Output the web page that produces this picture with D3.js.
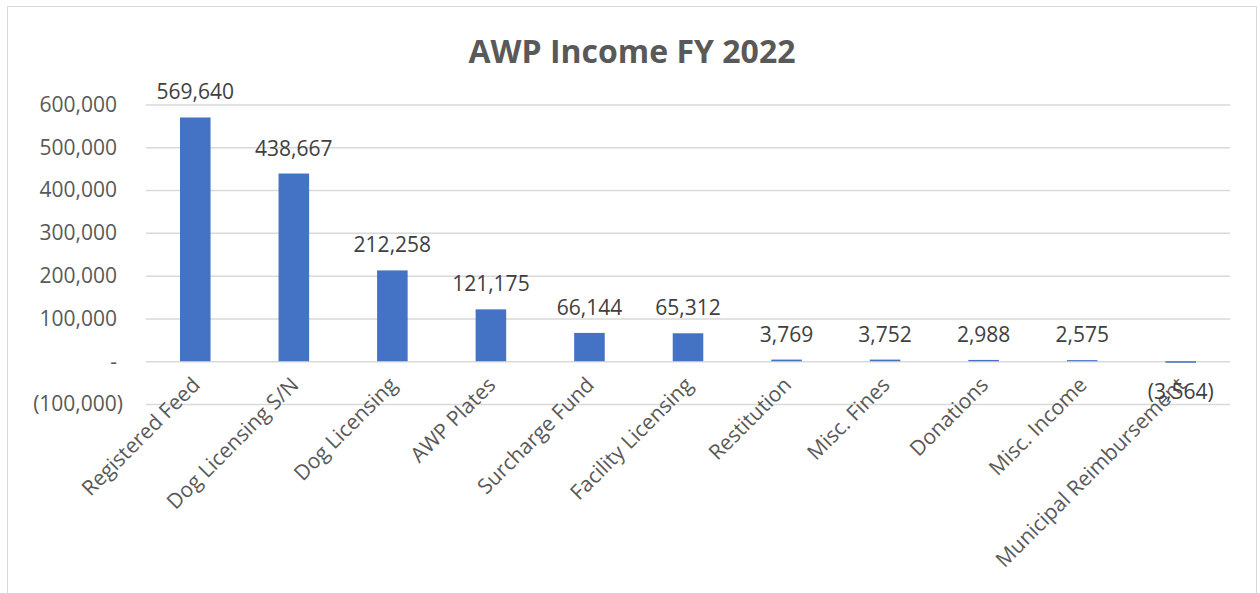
<!DOCTYPE html>
<html>
<head>
<meta charset="utf-8">
<script src="https://cdn.jsdelivr.net/npm/d3@7"></script>
<style>
  body { margin: 0; background: #fff; }
  text { font-family: "Open Sans", sans-serif; }
</style>
</head>
<body>
<svg id="chart" width="1260" height="593"></svg>
<script>
var categories = ["Registered Feed", "Dog Licensing S/N", "Dog Licensing", "AWP Plates",
  "Surcharge Fund", "Facility Licensing", "Restitution", "Misc. Fines", "Donations",
  "Misc. Income", "Municipal Reimbursement"];
var values = [569640, 438667, 212258, 121175, 66144, 65312, 3769, 3752, 2988, 2575, -3564];
var yTicks = [-100000, 0, 100000, 200000, 300000, 400000, 500000, 600000];
var yDomain = [-100000, 600000];

var svg = d3.select("#chart");

// chart frame
svg.append("rect")
    .attr("x", 7.5).attr("y", 6.5)
    .attr("width", 1249).attr("height", 620)
    .attr("fill", "#fff")
    .attr("stroke", "#d9d9d9");

svg.append("text")
    .attr("x", 632).attr("y", 63)
    .attr("text-anchor", "middle")
    .attr("font-size", 32)
    .attr("font-weight", "bold")
    .attr("fill", "#595959")
    .text("AWP Income FY 2022");

var left = 146, right = 1230;

var x = d3.scaleBand()
    .domain(categories)
    .range([left, right])
    .paddingInner(0.69)
    .paddingOuter(0.345);

var y = d3.scaleLinear()
    .domain(yDomain)
    .range([404, 104.5]);

function fmt(d) {
  if (d === 0) return "-";
  if (d < 0) return "(" + d3.format(",")(-d) + ")";
  return d3.format(",")(d);
}

// gridlines
svg.append("g")
    .attr("transform", "translate(" + left + ",0)")
    .call(d3.axisLeft(y).tickValues(yTicks).tickSize(-(right - left)).tickFormat(""))
    .call(function(g) {
      g.select(".domain").remove();
      g.selectAll("line").attr("stroke", "#d9d9d9").attr("stroke-width", 1.5);
    });

// y labels (accounting style, negatives hang out past the column)
svg.append("g")
    .selectAll("text")
    .data(yTicks)
    .enter()
    .append("text")
    .attr("x", function(d) { return d < 0 ? 123 : 117; })
    .attr("y", function(d) { return y(d); })
    .attr("dy", "0.35em")
    .attr("text-anchor", "end")
    .attr("font-size", 21)
    .attr("fill", "#595959")
    .text(fmt);

// bars
svg.append("g")
    .selectAll("rect")
    .data(values)
    .enter()
    .append("rect")
    .attr("x", function(d, i) { return x(categories[i]); })
    .attr("y", function(d) { return y(Math.max(0, d)); })
    .attr("width", x.bandwidth())
    .attr("height", function(d) { return Math.abs(y(d) - y(0)); })
    .attr("fill", "#4472c4");

// category axis
svg.append("g")
    .attr("transform", "translate(0," + y(0) + ")")
    .call(d3.axisBottom(x).tickSize(0))
    .call(function(g) {
      g.select(".domain").remove();
      g.selectAll("text")
          .attr("font-family", "Open Sans, sans-serif")
          .attr("font-size", 21)
          .attr("fill", "#595959")
          .attr("text-anchor", "end")
          .attr("dy", null)
          .attr("y", 0)
          .attr("transform", "translate(6,25) rotate(-45)");
    });

// data labels
svg.append("g")
    .selectAll("text")
    .data(values)
    .enter()
    .append("text")
    .attr("x", function(d, i) { return x(categories[i]) + x.bandwidth() / 2; })
    .attr("y", function(d) { return d >= 0 ? y(d) - 18 : y(d) + 36; })
    .attr("text-anchor", "middle")
    .attr("font-size", 21)
    .attr("fill", "#404040")
    .text(fmt);
</script>
</body>
</html>
